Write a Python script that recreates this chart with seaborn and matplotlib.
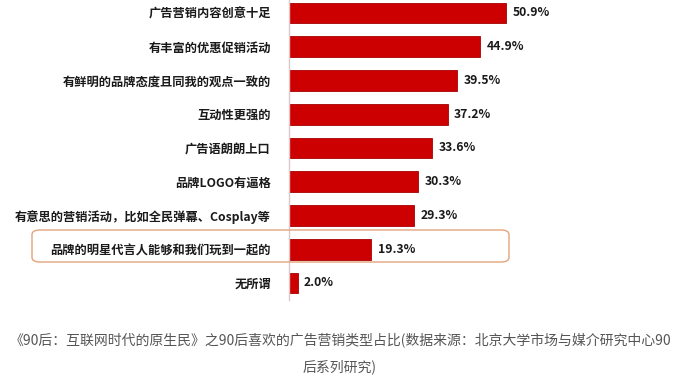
import pandas as pd
import matplotlib.pyplot as plt
import seaborn as sns
from matplotlib.patches import FancyBboxPatch

# 数据
categories = ['广告营销内容创意十足', '有丰富的优惠促销活动', '有鲜明的品牌态度且同我的观点一致的',
              '互动性更强的', '广告语朗朗上口', '品牌LOGO有逼格',
              '有意思的营销活动，比如全民弹幕、Cosplay等', '品牌的明星代言人能够和我们玩到一起的', '无所谓']
values = [50.9, 44.9, 39.5, 37.2, 33.6, 30.3, 29.3, 19.3, 2.0]
caption_line1 = '《90后：互联网时代的原生民》之90后喜欢的广告营销类型占比(数据来源：北京大学市场与媒介研究中心90'
caption_line2 = '后系列研究)'


def plot_bars():
    sns.set_style("white")
    plt.rcParams['font.family'] = ['Noto Sans CJK SC', 'DejaVu Sans']

    W, H = 680, 379
    fig = plt.figure(figsize=(W / 100, H / 100), dpi=100)

    # 轴的位置（像素换算）
    left_px, right_px, top_px, bottom_px = 289, 640, 0, 300
    ax = fig.add_axes([left_px / W, 1 - bottom_px / H, (right_px - left_px) / W, (bottom_px - top_px) / H])

    df = pd.DataFrame({'cat': categories, 'val': values})
    sns.barplot(data=df, x='val', y='cat', orient='h', color='#CC0000', width=0.62,
                edgecolor='#A80000', linewidth=0.6, saturation=1, ax=ax)

    px_per_unit = 217 / 50.9
    ax.set_xlim(0, (right_px - left_px) / px_per_unit)
    step = 33.75
    ax.set_ylim(8 + (bottom_px - 283) / step, -(13 - top_px) / step)

    ax.set_xlabel('')
    ax.set_ylabel('')
    ax.set_xticks([])
    for s in ['top', 'right', 'bottom']:
        ax.spines[s].set_visible(False)
    ax.spines['left'].set_color('#DCC8C8')
    ax.spines['left'].set_linewidth(1)
    ax.tick_params(axis='y', length=0, pad=13)
    for lab in ax.get_yticklabels():
        lab.set_fontsize(8.8)
        lab.set_fontweight('bold')
        lab.set_color('#1a1a1a')

    ax.bar_label(ax.containers[0], labels=[f"{v:.1f}%" for v in values], padding=4.5,
                 fontsize=8.8, fontweight='bold', color='#1a1a1a')

    # 高亮框
    box = FancyBboxPatch((32 / W, 1 - 262 / H), 477 / W, 32 / H,
                         boxstyle="round,pad=0,rounding_size=0.012",
                         transform=fig.transFigure, fill=False,
                         edgecolor='#E3A47C', linewidth=1.0, zorder=0)
    fig.patches.append(box)

    # 标题说明
    fig.text(0.5, 1 - 340 / H, caption_line1, ha='center', va='center', fontsize=10, color='#555555')
    fig.text(0.5, 1 - 367 / H, caption_line2, ha='center', va='center', fontsize=10, color='#555555')

    fig.savefig('out.png', dpi=100)


if __name__ == "__main__":
    plot_bars()
